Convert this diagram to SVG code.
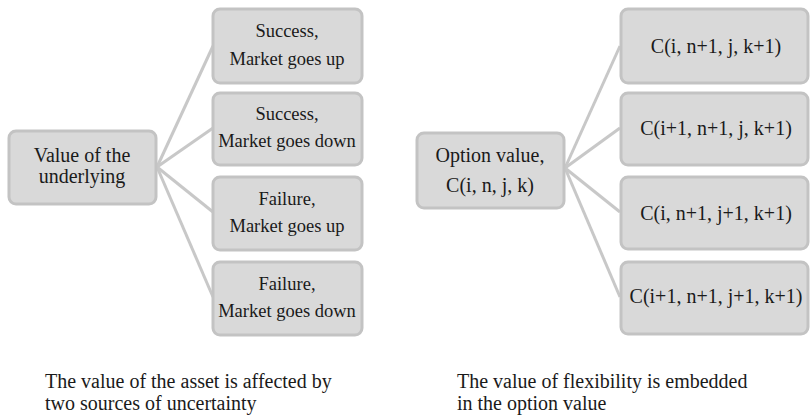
<svg xmlns="http://www.w3.org/2000/svg" width="810" height="416" viewBox="0 0 810 416" font-family="Liberation Serif, DejaVu Serif, serif">
<style>
.box{fill:#d9d9d9;stroke:#c3c3c3;stroke-width:3}
text{fill:#1a1a1a}
.t{text-anchor:middle}
.s18{font-size:18.5px}
.s20{font-size:20px}
.cap{font-size:20px}
.c{stroke:#c8c8c8;stroke-width:3;fill:none}
</style>
<rect width="810" height="416" fill="#ffffff"/>
<g id="connectors">
<line class="c" x1="157" y1="167" x2="213" y2="46"/>
<line class="c" x1="157" y1="167" x2="213" y2="128"/>
<line class="c" x1="157" y1="167" x2="213" y2="212"/>
<line class="c" x1="157" y1="167" x2="213" y2="297"/>
<line class="c" x1="565" y1="168" x2="620" y2="46"/>
<line class="c" x1="565" y1="168" x2="620" y2="128"/>
<line class="c" x1="565" y1="168" x2="620" y2="212"/>
<line class="c" x1="565" y1="168" x2="620" y2="297"/>
</g>
<g id="value-underlying">
<rect class="box" x="9" y="131" width="147" height="73" rx="7"/>
<text class="t s20" x="82" y="162">Value of the</text>
<text class="t s20" x="82" y="183">underlying</text>
</g>
<g id="success-up">
<rect class="box" x="213" y="9" width="149" height="74" rx="7"/>
<text class="t s18" x="287" y="37">Success,</text>
<text class="t s18" x="287" y="65">Market goes up</text>
</g>
<g id="success-down">
<rect class="box" x="213" y="93" width="149" height="72" rx="7"/>
<text class="t s18" x="287" y="120">Success,</text>
<text class="t s18" x="287" y="147">Market goes down</text>
</g>
<g id="failure-up">
<rect class="box" x="213" y="177" width="149" height="73" rx="7"/>
<text class="t s18" x="287" y="205">Failure,</text>
<text class="t s18" x="287" y="232">Market goes up</text>
</g>
<g id="failure-down">
<rect class="box" x="213" y="262" width="149" height="73" rx="7"/>
<text class="t s18" x="287" y="290">Failure,</text>
<text class="t s18" x="287" y="317">Market goes down</text>
</g>
<g id="option-value">
<rect class="box" x="417" y="133" width="147" height="75" rx="7"/>
<text class="t s20" x="490" y="162">Option value,</text>
<text class="t s20" x="490" y="192">C(i, n, j, k)</text>
</g>
<g id="c1">
<rect class="box" x="621" y="9" width="187" height="74" rx="7"/>
<text class="t s20" x="716" y="53">C(i, n+1, j, k+1)</text>
</g>
<g id="c2">
<rect class="box" x="621" y="93" width="187" height="72" rx="7"/>
<text class="t s20" x="716" y="135">C(i+1, n+1, j, k+1)</text>
</g>
<g id="c3">
<rect class="box" x="621" y="177" width="187" height="72" rx="7"/>
<text class="t s20" x="716" y="220">C(i, n+1, j+1, k+1)</text>
</g>
<g id="c4">
<rect class="box" x="621" y="262" width="187" height="72" rx="7"/>
<text class="t s20" x="716" y="303">C(i+1, n+1, j+1, k+1)</text>
</g>
<g id="captions">
<text class="cap" x="45" y="388">The value of the asset is affected by</text>
<text class="cap" x="45" y="410">two sources of uncertainty</text>
<text class="cap" x="457" y="388">The value of flexibility is embedded</text>
<text class="cap" x="457" y="410">in the option value</text>
</g>
</svg>
